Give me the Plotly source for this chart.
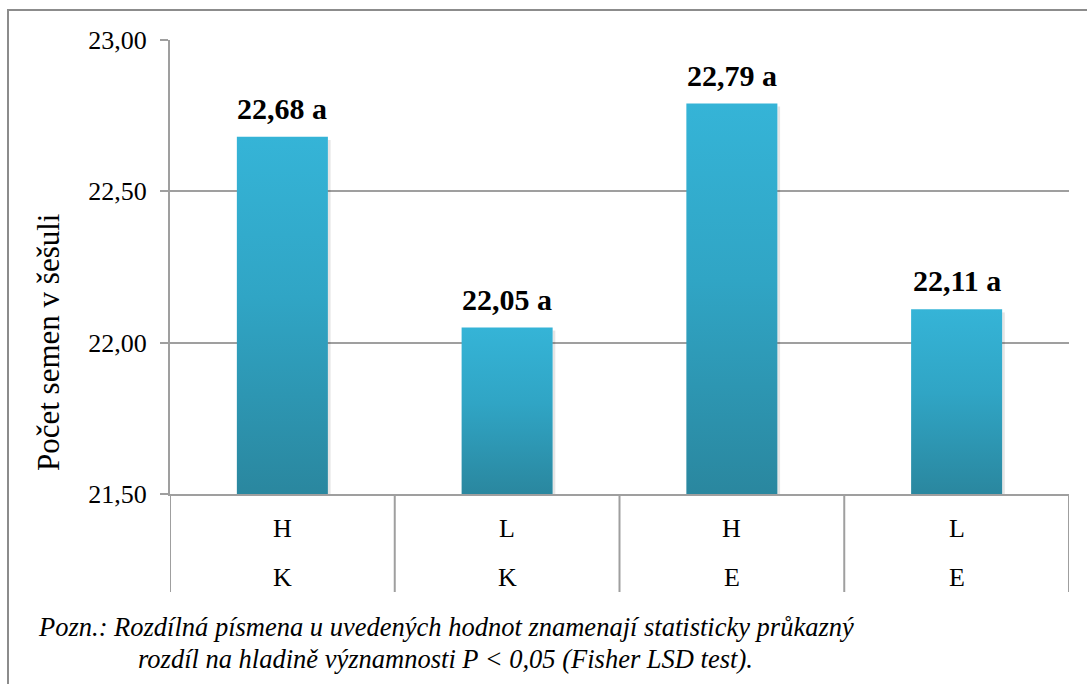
import plotly.graph_objects as go

# Data
treatment = ["H", "L", "H", "L"]
variety = ["K", "K", "E", "E"]
seeds_per_pod = [22.68, 22.05, 22.79, 22.11]
letters = ["a", "a", "a", "a"]
y_ticks = [21.5, 22.0, 22.5, 23.0]

W, H = 1087, 684
SERIF = "Liberation Serif"
GRID = "#9f9f9f"
BASE = 21.5
BAR_W = 0.405

def px_x(p):
    return p / W

def px_y(p):
    return (H - p) / H

fig = go.Figure()

# Bars drawn as filled rectangles so each one can carry a vertical gradient
for i, v in enumerate(seeds_per_pod):
    x0, x1 = i - BAR_W / 2, i + BAR_W / 2
    # soft shadow on the right edge
    fig.add_trace(go.Scatter(
        x=[x1, x1 + 0.012, x1 + 0.012, x1, x1],
        y=[BASE, BASE, v - 0.01, v - 0.01, BASE],
        fill="toself", mode="none", fillcolor="rgba(0,0,0,0.10)",
        hoverinfo="skip", showlegend=False,
    ))
    fig.add_trace(go.Scatter(
        x=[x0, x1, x1, x0, x0],
        y=[BASE, BASE, v, v, BASE],
        fill="toself", mode="none",
        fillgradient=dict(
            type="vertical",
            colorscale=[[0, "#2a879f"], [0.55, "#30a5c5"], [1, "#35b4d7"]],
        ),
        hoverinfo="skip", showlegend=False,
        name=f"{treatment[i]} {variety[i]}",
    ))

annotations = []
# Value labels above bars
for i, v in enumerate(seeds_per_pod):
    label = f"{v:.2f}".replace(".", ",") + " " + letters[i]
    annotations.append(dict(
        x=i, y=v, xref="x", yref="y", text=f"<b>{label}</b>",
        showarrow=False, yanchor="bottom", yshift=10,
        font=dict(family=SERIF, size=30, color="#000000"),
    ))

# Two-level category labels
for i in range(len(treatment)):
    annotations.append(dict(
        x=i, y=px_y(528), xref="x", yref="paper", text=treatment[i],
        showarrow=False, yanchor="middle",
        font=dict(family=SERIF, size=26, color="#000000"),
    ))
    annotations.append(dict(
        x=i, y=px_y(577), xref="x", yref="paper", text=variety[i],
        showarrow=False, yanchor="middle",
        font=dict(family=SERIF, size=26, color="#000000"),
    ))

# Axis title
annotations.append(dict(
    x=px_x(48), y=px_y(342), xref="paper", yref="paper",
    text="Počet semen v šešuli", textangle=-90, showarrow=False,
    xanchor="center", yanchor="middle",
    font=dict(family=SERIF, size=31, color="#000000"),
))

# Footnote
annotations.append(dict(
    x=px_x(36), y=px_y(627), xref="paper", yref="paper",
    text="<i>Pozn.: Rozdílná písmena u uvedených hodnot znamenají statisticky průkazný</i>",
    showarrow=False, xanchor="left", yanchor="middle",
    font=dict(family=SERIF, size=26.5, color="#000000"),
))
annotations.append(dict(
    x=px_x(136), y=px_y(659), xref="paper", yref="paper",
    text="<i>rozdíl na hladině významnosti P &lt; 0,05 (Fisher LSD test).</i>",
    showarrow=False, xanchor="left", yanchor="middle",
    font=dict(family=SERIF, size=26.5, color="#000000"),
))

shapes = []
# Category separators below the plot area
for b in [-0.5, 0.5, 1.5, 2.5, 3.5]:
    shapes.append(dict(
        type="line", xref="x", yref="paper", x0=b, x1=b,
        y0=px_y(494), y1=px_y(592),
        line=dict(color=GRID, width=2),
    ))
# Chart-area border
shapes.append(dict(
    type="path", xref="paper", yref="paper",
    path=f"M {px_x(8)},{px_y(690)} L {px_x(8)},{px_y(10)} L {px_x(1095)},{px_y(10)}",
    line=dict(color="#8c8c8c", width=2),
))

fig.update_layout(
    width=W, height=H, autosize=False,
    margin=dict(l=0, r=0, t=0, b=0, pad=0),
    paper_bgcolor="white", plot_bgcolor="white",
    separators=", ",
    showlegend=False,
    font=dict(family=SERIF),
    annotations=annotations,
    shapes=shapes,
    xaxis=dict(
        domain=[px_x(170), px_x(1069)],
        range=[-0.5, 3.5], showticklabels=False, showgrid=False,
        zeroline=False, showline=True, linecolor=GRID, linewidth=2,
        fixedrange=True, automargin=False,
    ),
    yaxis=dict(
        domain=[px_y(494), px_y(40)],
        range=[BASE, 23.0], tickvals=y_ticks, tickformat=".2f",
        ticks="outside", ticklen=8, tickwidth=2, tickcolor=GRID,
        showgrid=True, gridcolor=GRID, gridwidth=2,
        zeroline=False, showline=True, linecolor=GRID, linewidth=2,
        tickfont=dict(family=SERIF, size=26, color="#000000"),
        ticklabelstandoff=8,
        fixedrange=True, automargin=False,
    ),
)

fig.write_html("out.html")
